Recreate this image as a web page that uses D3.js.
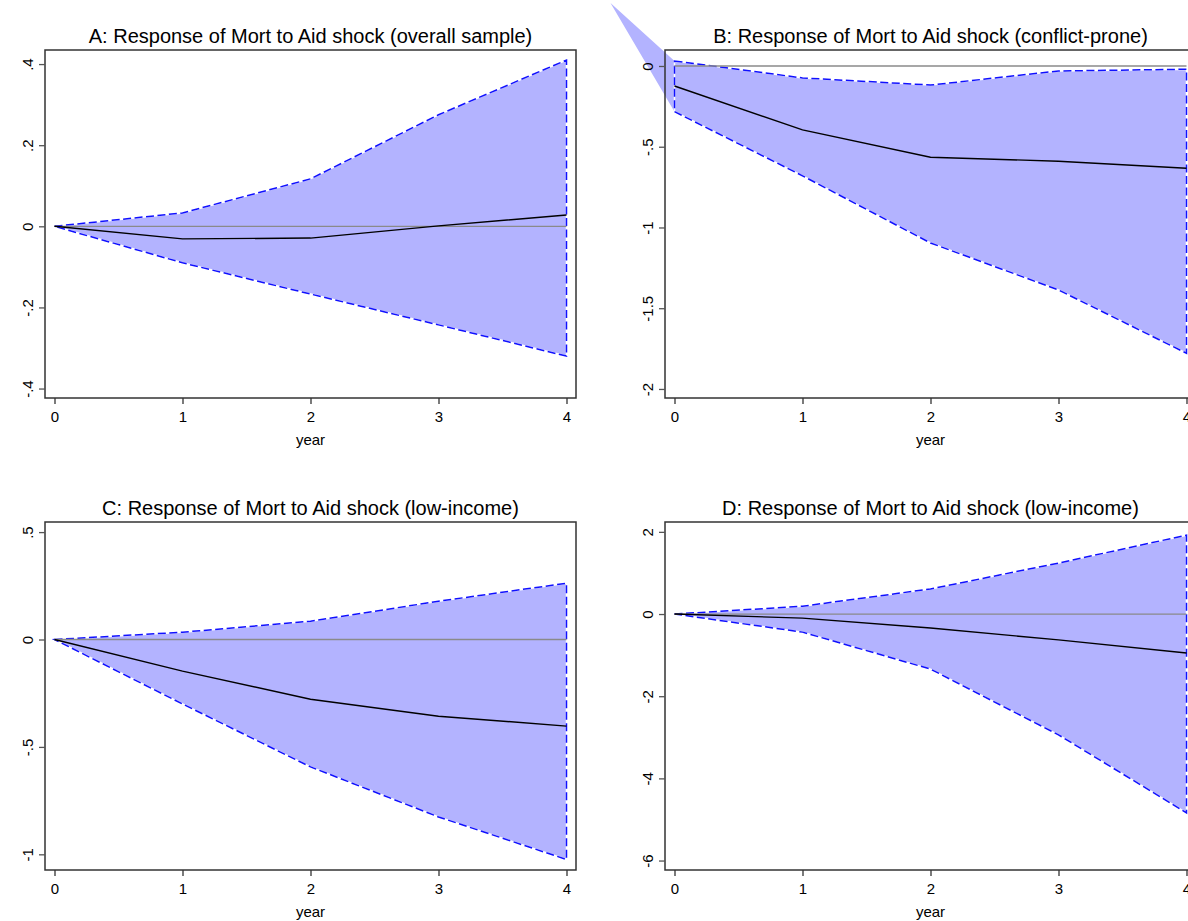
<!DOCTYPE html>
<html>
<head>
<meta charset="utf-8">
<script src="https://cdn.jsdelivr.net/npm/d3@7"></script>
<style>
  body { margin: 0; background: #fff; }
  text { font-family: Arial, "Liberation Sans", sans-serif; fill: #000; }
</style>
</head>
<body>
<div id="chart"></div>
<script>
// horizon (years after the shock)
const years = [0, 1, 2, 3, 4];

// A: overall sample
const aMid   = [0, -0.031, -0.029, 0.001, 0.028];
const aUpper = [0, 0.033, 0.117, 0.275, 0.41];
const aLower = [0, -0.090, -0.167, -0.243, -0.32];
const aTicks = [-0.4, -0.2, 0, 0.2, 0.4];
const aTickLabels = ["-.4", "-.2", "0", ".2", ".4"];

// B: conflict-prone
const bMid   = [-0.124, -0.396, -0.565, -0.59, -0.633];
const bUpper = [0.031, -0.074, -0.118, -0.031, -0.02];
const bLower = [-0.283, -0.68, -1.096, -1.387, -1.779];
const bTicks = [-2, -1.5, -1, -0.5, 0];
const bTickLabels = ["-2", "-1.5", "-1", "-.5", "0"];
const bStray = [-0.5, 0.39]; // stray vertex of the shaded area

// C: low-income
const cMid   = [0, -0.147, -0.278, -0.357, -0.403];
const cUpper = [0, 0.034, 0.085, 0.178, 0.262];
const cLower = [0, -0.30, -0.593, -0.826, -1.024];
const cTicks = [-1, -0.5, 0, 0.5];
const cTickLabels = ["-1", "-.5", "0", ".5"];

// D: low-income
const dMid   = [0, -0.1, -0.34, -0.63, -0.95];
const dUpper = [0, 0.19, 0.61, 1.24, 1.92];
const dLower = [0, -0.44, -1.34, -2.94, -4.84];
const dTicks = [-6, -4, -2, 0, 2];
const dTickLabels = ["-6", "-4", "-2", "0", "2"];

const panels = [
  {title: "A: Response of Mort to Aid shock (overall sample)", mid: aMid, upper: aUpper, lower: aLower,
   ticks: aTicks, labels: aTickLabels, domain: [-0.4233, 0.4347], col: 0, row: 0},
  {title: "B: Response of Mort to Aid shock (conflict-prone)", mid: bMid, upper: bUpper, lower: bLower,
   ticks: bTicks, labels: bTickLabels, domain: [-2.056, 0.099], col: 1, row: 0, stray: bStray},
  {title: "C: Response of Mort to Aid shock (low-income)", mid: cMid, upper: cUpper, lower: cLower,
   ticks: cTicks, labels: cTickLabels, domain: [-1.073, 0.547], col: 0, row: 1},
  {title: "D: Response of Mort to Aid shock (low-income)", mid: dMid, upper: dUpper, lower: dLower,
   ticks: dTicks, labels: dTickLabels, domain: [-6.23, 2.24], col: 1, row: 1}
];

const width = 1188, height = 921;
const frameW = 531, frameH = 348;
const colX = [45, 665], rowY = [50, 522];
const pad = 9.5; // gap between frame and x=0 / x=4

const svg = d3.select("#chart").append("svg")
  .attr("width", width)
  .attr("height", height);

panels.forEach(p => {
  const g = svg.append("g")
    .attr("transform", `translate(${colX[p.col]},${rowY[p.row]})`);

  const x = d3.scaleLinear().domain([0, 4]).range([pad, frameW - pad]);
  const y = d3.scaleLinear().domain(p.domain).range([frameH, 0]);

  // shaded band
  const pts = years.map((t, i) => [x(t), y(p.upper[i])])
    .concat(years.map((t, i) => [x(t), y(p.lower[i])]).reverse());
  const fillPts = p.stray ? [[x(p.stray[0]), y(p.stray[1])]].concat(pts) : pts;

  g.append("path")
    .attr("d", "M" + fillPts.join("L") + "Z")
    .attr("fill", "#b3b3ff");

  g.append("path")
    .attr("d", "M" + pts.join("L") + "Z")
    .attr("fill", "none")
    .attr("stroke", "#fff")
    .attr("stroke-width", 1.5);

  g.append("path")
    .attr("d", "M" + pts.join("L") + "Z")
    .attr("fill", "none")
    .attr("stroke", "#1010ff")
    .attr("stroke-width", 1.5)
    .attr("stroke-dasharray", "8,3.5");

  // zero line
  g.append("line")
    .attr("x1", x(0)).attr("x2", x(4))
    .attr("y1", y(0)).attr("y2", y(0))
    .attr("stroke", "#8a8a8a")
    .attr("stroke-width", 1.3);

  // point estimate
  g.append("path")
    .datum(p.mid)
    .attr("d", d3.line().x((d, i) => x(years[i])).y(d => y(d)))
    .attr("fill", "none")
    .attr("stroke", "#000")
    .attr("stroke-width", 1.4);

  // frame
  g.append("rect")
    .attr("width", frameW).attr("height", frameH)
    .attr("fill", "none")
    .attr("stroke", "#333")
    .attr("stroke-width", 1.5);

  // axes
  const xAxis = g.append("g")
    .attr("transform", `translate(0,${frameH})`)
    .call(d3.axisBottom(x).tickValues(years).tickFormat(d3.format("d")).tickSize(6).tickSizeOuter(0));
  xAxis.select(".domain").remove();
  xAxis.selectAll("line").attr("stroke", "#333").attr("stroke-width", 1.3);
  xAxis.selectAll("text")
    .attr("y", 24).attr("dy", 0)
    .style("font-size", "15px")
    .style("font-family", "Arial, Liberation Sans, sans-serif");

  const yAxis = g.append("g")
    .call(d3.axisLeft(y).tickValues(p.ticks).tickSize(6).tickSizeOuter(0).tickFormat((d, i) => p.labels[i]));
  yAxis.select(".domain").remove();
  yAxis.selectAll("line").attr("stroke", "#555").attr("stroke-width", 1.3);
  yAxis.selectAll("text")
    .attr("x", null).attr("dy", null)
    .attr("transform", "translate(-12.5,0) rotate(-90)")
    .attr("text-anchor", "middle")
    .style("font-size", "15px")
    .style("font-family", "Arial, Liberation Sans, sans-serif");

  g.append("text")
    .attr("x", frameW / 2).attr("y", frameH + 47)
    .attr("text-anchor", "middle")
    .style("font-size", "15px")
    .text("year");

  g.append("text")
    .attr("x", frameW / 2).attr("y", -7)
    .attr("text-anchor", "middle")
    .style("font-size", "20px")
    .text(p.title);
});
</script>
</body>
</html>
